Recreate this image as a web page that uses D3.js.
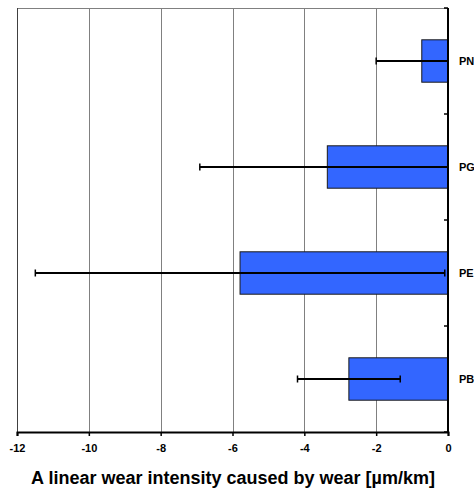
<!DOCTYPE html>
<html>
<head>
<meta charset="utf-8">
<script src="https://cdn.jsdelivr.net/npm/d3@7"></script>
<style>
  body { margin: 0; background: #fff; }
  svg text { font-family: "Liberation Sans", Arial, sans-serif; font-weight: bold; fill: #000; }
</style>
</head>
<body>
<svg id="chart" width="474" height="490"></svg>
<script>
// Data (top to bottom)
var categories = ['PN', 'PG', 'PE', 'PB'];
var values = [-0.73, -3.36, -5.79, -2.76];
var errors = [1.27, 3.55, 5.70, 1.43];
var xTicks = [-12, -10, -8, -6, -4, -2, 0];

var margins = {top: 8, right: 26, bottom: 58, left: 17},
    width = 474, height = 490,
    w = width - margins.left - margins.right,
    h = height - margins.top - margins.bottom;

var svg = d3.select('#chart');
var g = svg.append('g').attr('transform', 'translate(' + margins.left + ',' + margins.top + ')');

var x = d3.scaleLinear().domain([-12, 0]).range([0, w]);
var y = d3.scaleBand().domain(categories).range([0, h]).paddingInner(0.6).paddingOuter(0.3);
var band = d3.scaleBand().domain(categories).range([0, h]);

// clip for error bars
svg.append('clipPath').attr('id', 'plot-clip')
  .append('rect').attr('width', w).attr('height', h);

// plot frame: top + left gray
g.append('line').attr('x1', 0).attr('x2', w).attr('y1', 0.5).attr('y2', 0.5)
  .attr('stroke', '#808080').attr('stroke-width', 1);
g.append('line').attr('x1', 0.5).attr('x2', 0.5).attr('y1', 0).attr('y2', h)
  .attr('stroke', '#404040').attr('stroke-width', 1);

// vertical gridlines
g.selectAll('.grid').data(xTicks.slice(1, -1)).enter().append('line')
  .attr('class', 'grid')
  .attr('x1', function (d) { return Math.round(x(d)) + 0.5; })
  .attr('x2', function (d) { return Math.round(x(d)) + 0.5; })
  .attr('y1', 0).attr('y2', h)
  .attr('stroke', '#808080').attr('stroke-width', 1);

// bars
g.selectAll('.bar').data(categories).enter().append('rect')
  .attr('class', 'bar')
  .attr('x', function (d, i) { return x(values[i]); })
  .attr('width', function (d, i) { return x(0) - x(values[i]); })
  .attr('y', function (d) { return y(d); })
  .attr('height', y.bandwidth())
  .attr('fill', '#3366FF')
  .attr('stroke', '#1a1a1a').attr('stroke-width', 1);

// error bars
var eb = g.append('g').attr('clip-path', 'url(#plot-clip)');
categories.forEach(function (c, i) {
  var cy = y(c) + y.bandwidth() / 2;
  var x1 = x(values[i] - errors[i]), x2 = x(values[i] + errors[i]);
  eb.append('line').attr('x1', x1).attr('x2', x2).attr('y1', cy).attr('y2', cy)
    .attr('stroke', '#000').attr('stroke-width', 2);
  [x1, x2].forEach(function (xx) {
    eb.append('line').attr('x1', xx).attr('x2', xx).attr('y1', cy - 3.5).attr('y2', cy + 3.5)
      .attr('stroke', '#000').attr('stroke-width', 1.5);
  });
});

// x axis
var xAxis = g.append('g').attr('transform', 'translate(0,' + h + ')')
  .call(d3.axisBottom(x).tickValues(xTicks).tickSize(4).tickPadding(8).tickFormat(d3.format('d')));
xAxis.select('.domain').attr('stroke', '#000').attr('stroke-width', 2);
xAxis.selectAll('.tick line').attr('stroke', '#000').attr('stroke-width', 1.5);
xAxis.selectAll('.tick text').attr('font-size', 11).style('font-family', '"Liberation Sans", Arial, sans-serif').style('font-weight', 'bold')
  .text(function (d) { return d3.format('d')(d).replace('−', '-'); });

// right (zero) axis with category boundary ticks
g.append('line').attr('x1', x(0)).attr('x2', x(0)).attr('y1', 0).attr('y2', h)
  .attr('stroke', '#000').attr('stroke-width', 2);
var bounds = categories.map(function (c) { return band(c); }).concat([h]);
g.selectAll('.ytick').data(bounds).enter().append('line')
  .attr('class', 'ytick')
  .attr('x1', x(0) - 4).attr('x2', x(0))
  .attr('y1', function (d) { return d; }).attr('y2', function (d) { return d; })
  .attr('stroke', '#000').attr('stroke-width', 1.5);

// category labels
g.selectAll('.cat').data(categories).enter().append('text')
  .attr('class', 'cat')
  .attr('x', x(0) + 11)
  .attr('y', function (d) { return y(d) + y.bandwidth() / 2; })
  .attr('dy', '0.35em')
  .attr('font-size', 11)
  .text(function (d) { return d; });

// x title
svg.append('text')
  .attr('x', 233)
  .attr('y', 484)
  .attr('text-anchor', 'middle')
  .attr('font-size', 18)
  .text('A linear wear intensity caused by wear [µm/km]');
</script>
</body>
</html>
